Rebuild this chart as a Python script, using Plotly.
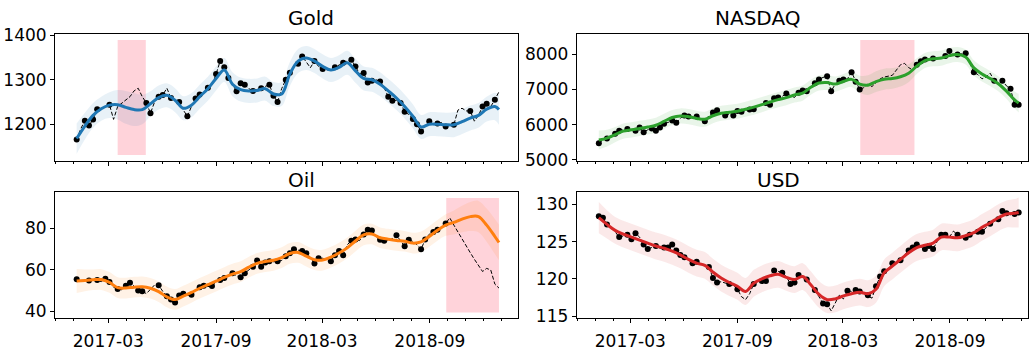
import pandas as pd
import plotly.graph_objects as go

# Weekly closing dates (Fridays) covering 2017-2018
week_dates = pd.date_range("2017-01-06", periods=104, freq="7D")
# The smoothed fit is sampled every other week plus the last week
fit_weeks = list(range(0, 104, 2)) + [103]
fit_dates = week_dates[fit_weeks]

# ---------------- Gold ----------------
gold_price = [1166, 1190, 1208, 1197, 1211, 1234, 1236, 1238, 1244, 1211,
              1240, 1248, 1254, 1262, 1275, 1281, 1262, 1248, 1225, 1250,
              1262, 1266, 1281, 1259, 1255, 1250, 1232, 1218, 1240, 1258,
              1267, 1272, 1282, 1287, 1313, 1342, 1328, 1304, 1290, 1274,
              1292, 1289, 1280, 1275, 1278, 1281, 1285, 1289, 1264, 1250,
              1280, 1300, 1316, 1330, 1336, 1352, 1340, 1327, 1342, 1330,
              1324, 1322, 1323, 1328, 1334, 1338, 1342, 1345, 1330, 1313,
              1315, 1294, 1298, 1300, 1296, 1282, 1262, 1253, 1254, 1248,
              1228, 1222, 1212, 1200, 1184, 1194, 1207, 1200, 1202, 1204,
              1195, 1198, 1199, 1232, 1236, 1230, 1230, 1207, 1220, 1240,
              1246, 1240, 1255, 1273]
gold_unobserved = [1, 6, 7, 9, 10, 11, 12, 13, 14, 15, 16, 19, 22, 24, 26,
                   28, 31, 33, 38, 42, 44, 46, 50, 53, 56, 57, 59, 61, 62,
                   64, 66, 69, 73, 75, 78, 81, 85, 87, 89, 91, 93, 94, 95,
                   97, 98, 101, 103]
gold_fit = [1168, 1196, 1220, 1235, 1243, 1244, 1238, 1233, 1233, 1246,
            1260, 1265, 1254, 1236, 1243, 1262, 1280, 1303, 1322, 1290,
            1278, 1275, 1276, 1280, 1268, 1268, 1313, 1342, 1349, 1342,
            1330, 1322, 1328, 1338, 1320, 1303, 1300, 1290, 1275, 1259,
            1240, 1218, 1194, 1200, 1200, 1199, 1199, 1206, 1214, 1220,
            1234, 1240, 1233]
gold_band = [34, 30, 28, 27, 29, 33, 37, 37, 33, 28,
             27, 27, 27, 27, 27, 27, 27, 27, 27, 27,
             27, 27, 27, 27, 27, 27, 27, 27, 27, 27,
             27, 27, 27, 27, 27, 27, 27, 27, 27, 27,
             27, 27, 27, 27, 27, 27, 28, 28, 28, 28,
             28, 31, 34]
gold_gap = ["2017-03-17", "2017-05-04"]

# ---------------- NASDAQ ----------------
nasdaq_price = [5466, 5560, 5601, 5640, 5736, 5826, 5850, 5871, 5840, 5826,
                5916, 5781, 5850, 5889, 5826, 5916, 6023, 6060, 6113, 6050,
                6180, 6257, 6230, 6185, 6230, 6150, 6095, 6250, 6340, 6410,
                6330, 6257, 6300, 6257, 6383, 6365, 6400, 6428, 6437, 6500,
                6580, 6616, 6563, 6751, 6770, 6800, 6886, 6830, 6770, 6904,
                6967, 6950, 7080, 7173, 7281, 7340, 7371, 6949, 7150, 7245,
                7281, 7300, 7488, 7218, 6994, 7050, 7150, 7080, 7200, 7300,
                7350, 7380, 7400, 7550, 7700, 7740, 7620, 7551, 7700, 7802,
                7848, 7860, 7875, 7880, 7875, 7950, 8090, 8000, 7990, 8000,
                8027, 7750, 7488, 7420, 7300, 7350, 7461, 7245, 7150, 7245,
                7100, 7020, 6562, 6562]
nasdaq_unobserved = [1, 3, 6, 8, 12, 17, 20, 23, 25, 27, 30, 32, 36, 39, 40,
                     45, 47, 48, 52, 55, 58, 61, 65, 66, 67, 68, 69, 70, 71,
                     72, 73, 74, 75, 76, 77, 81, 83, 84, 87, 89, 91, 93, 94,
                     95, 96, 98, 100]
nasdaq_fit = [5560, 5615, 5715, 5815, 5850, 5890, 5930, 5980, 6090, 6200,
              6245, 6225, 6175, 6150, 6250, 6320, 6350, 6380, 6435, 6495,
              6565, 6640, 6710, 6765, 6840, 6895, 7060, 7180, 7195, 7150,
              7225, 7285, 7150, 7120, 7220, 7290, 7310, 7360, 7460, 7660,
              7820, 7870, 7890, 7960, 7990, 7920, 7610, 7440, 7310, 7160,
              6950, 6700, 6610]
nasdaq_band = [270, 240, 215, 215, 215, 215, 215, 215, 215, 215,
               215, 215, 215, 215, 215, 215, 215, 215, 215, 215,
               215, 215, 215, 215, 215, 215, 215, 215, 215, 215,
               215, 215, 240, 280, 295, 300, 295, 280, 255, 225,
               215, 215, 215, 215, 215, 215, 215, 215, 215, 215,
               215, 240, 265]
nasdaq_gap = ["2018-03-31", "2018-07-02"]

# ---------------- Oil ----------------
oil_price = [55.3, 54.5, 54.8, 54.8, 55.5, 55.0, 54.2, 55.6, 54.0, 51.5,
             50.7, 50.3, 52.2, 53.7, 52.0, 49.9, 49.6, 48.4, 50.5, 52.6,
             52.5, 49.5, 47.2, 45.6, 44.1, 47.5, 48.4, 47.5, 47.9, 50.0,
             51.5, 52.2, 51.8, 52.1, 54.2, 55.0, 56.0, 57.0, 58.3, 57.0,
             56.3, 58.3, 60.0, 61.4, 64.4, 61.4, 63.4, 64.1, 63.8, 64.0,
             64.4, 66.5, 67.9, 69.8, 69.5, 69.0, 67.9, 66.0, 62.9, 65.5,
             65.5, 65.0, 64.1, 67.0, 69.0, 67.0, 72.0, 74.0, 74.5, 74.0,
             77.0, 79.2, 78.9, 76.0, 74.4, 74.0, 74.0, 75.0, 76.6, 74.0,
             71.3, 74.4, 73.6, 72.0, 69.8, 74.5, 77.1, 78.2, 79.2, 80.5,
             82.3, 85.0, 81.5, 78.0, 74.5, 71.0, 68.2, 65.0, 62.1, 59.1,
             60.6, 59.8, 53.0, 51.1]
oil_unobserved = [1, 2, 4, 6, 9, 11, 14, 17, 18, 19, 21, 27, 29, 32, 34,
                  37, 39, 42, 48, 50, 54, 57, 60, 61, 66, 69, 73, 76, 77,
                  79, 82, 83, 86, 89, 91, 92, 93, 94, 95, 96, 97, 98, 99,
                  100, 101, 102, 103]
oil_fit = [54.5, 54.8, 55.1, 55.2, 53.8, 51.3, 51.1, 51.5, 51.7, 51.0,
           49.4, 46.8, 45.6, 47.2, 49.0, 51.0, 52.7, 54.4, 56.2, 57.8,
           59.0, 61.2, 63.0, 63.9, 64.5, 65.8, 67.8, 68.3, 66.5, 64.8,
           64.6, 66.0, 68.0, 70.5, 73.8, 76.8, 77.2, 75.4, 74.7, 74.1,
           73.7, 72.8, 73.4, 76.0, 79.0, 81.5, 82.8, 84.4, 85.6, 85.6,
           81.5, 76.0, 73.1]
oil_band = [5.8, 5.3, 5.0, 5.0, 5.0, 5.0, 5.0, 5.0, 5.0, 5.0,
            5.0, 5.0, 5.0, 5.0, 5.0, 5.0, 5.0, 5.0, 5.0, 5.0,
            5.0, 5.0, 5.0, 5.0, 5.0, 5.0, 5.0, 5.0, 5.0, 5.0,
            5.0, 5.0, 5.0, 5.0, 5.0, 5.0, 5.0, 5.0, 5.0, 5.0,
            5.0, 5.0, 5.0, 5.0, 5.0, 5.2, 5.8, 6.4, 7.0, 7.6,
            8.0, 8.4, 8.6]
oil_gap = ["2018-09-29", "2018-12-28"]

# ---------------- USD ----------------
usd_price = [128.4, 128.2, 127.3, 126.8, 126.3, 125.6, 125.8, 125.9, 125.3, 126.1,
             125.6, 124.6, 124.0, 124.2, 124.4, 124.1, 124.2, 124.2, 124.6, 123.8,
             123.2, 122.9, 122.5, 122.1, 122.3, 122.0, 121.8, 121.6, 120.1, 119.5,
             119.6, 119.4, 119.3, 119.1, 118.6, 117.6, 117.2, 118.0, 119.3, 119.7,
             119.7, 119.7, 120.4, 121.1, 121.0, 120.8, 120.3, 119.3, 119.5, 120.5,
             120.2, 119.9, 119.3, 118.5, 117.6, 116.7, 116.6, 115.7, 116.8, 117.8,
             117.3, 118.4, 118.3, 118.5, 118.3, 118.0, 117.8, 117.4, 119.0, 120.3,
             121.0, 121.3, 122.1, 122.3, 122.5, 123.2, 123.8, 124.2, 124.6, 124.3,
             124.0, 124.4, 124.0, 125.0, 125.9, 125.9, 125.6, 126.4, 125.9, 125.6,
             125.5, 125.9, 126.1, 126.3, 126.3, 126.8, 127.4, 127.7, 128.0, 129.1,
             128.8, 128.6, 128.7, 128.9]
usd_unobserved = [3, 4, 6, 10, 13, 15, 22, 25, 26, 30, 31, 33, 35, 36, 37,
                  39, 42, 44, 46, 50, 52, 54, 57, 58, 59, 60, 62, 65, 67,
                  71, 73, 75, 79, 83, 86, 87, 89, 92, 95, 97, 101]
usd_fit = [128.2, 127.3, 126.5, 126.0, 125.6, 125.2, 124.8, 124.4, 124.1, 123.7,
           123.2, 122.6, 122.1, 121.8, 120.9, 120.1, 119.5, 119.0, 118.3, 119.4,
           120.0, 120.4, 120.6, 120.2, 119.9, 120.3, 119.2, 117.9, 117.2, 117.3,
           117.7, 118.0, 118.2, 118.0, 118.6, 120.8, 121.7, 122.6, 123.5, 124.2,
           124.5, 124.8, 125.6, 125.6, 125.5, 125.8, 126.2, 126.9, 127.5, 128.2,
           128.7, 128.8, 128.9]
usd_band = [2.1, 1.9, 1.8, 1.8, 1.8, 1.8, 1.8, 1.8, 1.8, 1.8,
            1.8, 1.8, 1.8, 1.8, 1.8, 1.8, 1.8, 1.8, 1.8, 1.8,
            1.8, 1.8, 1.8, 1.8, 1.8, 1.8, 1.8, 1.8, 1.8, 1.8,
            1.8, 1.8, 1.8, 1.8, 1.8, 1.8, 1.8, 1.8, 1.8, 1.8,
            1.8, 1.8, 1.8, 1.8, 1.8, 1.8, 1.8, 1.8, 1.8, 1.8,
            1.8, 1.9, 2.0]
usd_gap = None

# Axis settings
month_ticks = ["2017-03-01", "2017-09-01", "2018-03-01", "2018-09-01"]
month_labels = ["2017-03", "2017-09", "2018-03", "2018-09"]
gold_ticks = [1200, 1300, 1400]
nasdaq_ticks = [5000, 6000, 7000, 8000]
oil_ticks = [40, 60, 80]
usd_ticks = [115, 120, 125, 130]

W, H = 1033, 351
FONT = "DejaVu Sans"

left_dom = [55 / W, 517.7 / W]
right_dom = [576.7 / W, 1028 / W]
top_dom = [1 - 160 / H, 1 - 26.7 / H]
bot_dom = [1 - 326 / H, 1 - 193.3 / H]

panels = [
    dict(name="Gold", price=gold_price, miss=gold_unobserved, fit=gold_fit,
         band=gold_band, gap=gold_gap, color="#1f77b4", fill="rgba(31,119,180,0.1)",
         ax="", xdom=left_dom, ydom=top_dom, yr=[1118, 1402], yt=gold_ticks,
         xr=["2016-11-30", "2019-01-29"], labels=False, title_y=1 - 9 / H),
    dict(name="NASDAQ", price=nasdaq_price, miss=nasdaq_unobserved, fit=nasdaq_fit,
         band=nasdaq_band, gap=nasdaq_gap, color="#2ca02c", fill="rgba(44,160,44,0.1)",
         ax="2", xdom=right_dom, ydom=top_dom, yr=[4970, 8565], yt=nasdaq_ticks,
         xr=["2016-11-29", "2019-01-13"], labels=False, title_y=1 - 9 / H),
    dict(name="Oil", price=oil_price, miss=oil_unobserved, fit=oil_fit,
         band=oil_band, gap=oil_gap, color="#ff7f0e", fill="rgba(255,127,14,0.1)",
         ax="3", xdom=left_dom, ydom=bot_dom, yr=[36.5, 97.3], yt=oil_ticks,
         xr=["2016-11-30", "2019-01-29"], labels=True, title_y=1 - 180 / H),
    dict(name="USD", price=usd_price, miss=usd_unobserved, fit=usd_fit,
         band=usd_band, gap=usd_gap, color="#d62728", fill="rgba(214,39,40,0.1)",
         ax="4", xdom=right_dom, ydom=bot_dom, yr=[114.7, 131.6], yt=usd_ticks,
         xr=["2016-11-29", "2019-01-13"], labels=True, title_y=1 - 180 / H),
]

fig = go.Figure()
shapes = []
annotations = []
layout_axes = {}

for p in panels:
    xa, ya = "x" + p["ax"], "y" + p["ax"]
    lower = [m - b for m, b in zip(p["fit"], p["band"])]
    upper = [m + b for m, b in zip(p["fit"], p["band"])]

    # uncertainty band
    fig.add_trace(go.Scatter(x=fit_dates, y=lower, mode="lines",
                             line=dict(width=0, shape="spline"),
                             hoverinfo="skip", showlegend=False,
                             xaxis=xa, yaxis=ya))
    fig.add_trace(go.Scatter(x=fit_dates, y=upper, mode="lines", fill="tonexty",
                             fillcolor=p["fill"], line=dict(width=0, shape="spline"),
                             hoverinfo="skip", showlegend=False,
                             xaxis=xa, yaxis=ya))
    # full weekly series
    fig.add_trace(go.Scatter(x=week_dates, y=p["price"], mode="lines",
                             line=dict(color="black", width=1, dash="4px,2px"),
                             showlegend=False, xaxis=xa, yaxis=ya))
    # observed points
    obs = [i for i in range(len(p["price"])) if i not in p["miss"]]
    fig.add_trace(go.Scatter(x=week_dates[obs], y=[p["price"][i] for i in obs],
                             mode="markers", marker=dict(color="black", size=6),
                             showlegend=False, xaxis=xa, yaxis=ya))
    # smoothed fit
    fig.add_trace(go.Scatter(x=fit_dates, y=p["fit"], mode="lines",
                             line=dict(color=p["color"], width=3, shape="spline"),
                             showlegend=False, xaxis=xa, yaxis=ya))

    if p["gap"] is not None:
        shapes.append(dict(type="rect", xref=xa, yref=ya + " domain",
                           x0=p["gap"][0], x1=p["gap"][1], y0=0.045, y1=0.955,
                           fillcolor="pink", opacity=0.7, line=dict(width=0),
                           layer="below"))

    annotations.append(dict(text=p["name"], xref="paper", yref="paper",
                            x=(p["xdom"][0] + p["xdom"][1]) / 2,
                            y=p["title_y"], yanchor="middle",
                            showarrow=False,
                            font=dict(family=FONT, size=20, color="black")))

    xkey = "xaxis" + p["ax"]
    ykey = "yaxis" + p["ax"]
    layout_axes[xkey] = dict(
        domain=p["xdom"], anchor=ya, type="date", range=p["xr"],
        tickmode="array", tickvals=month_ticks, ticktext=month_labels,
        showticklabels=p["labels"], ticks="outside", ticklen=4, tickwidth=1,
        tickcolor="black", showgrid=False, zeroline=False,
        showline=True, linecolor="black", linewidth=1, mirror=True,
        ticklabelstandoff=3,
        minor=dict(ticks="outside", ticklen=2, tickcolor="black",
                   dtick="M1", tick0="2016-12-01", showgrid=False),
        tickfont=dict(family=FONT, size=17, color="black"),
    )
    layout_axes[ykey] = dict(
        domain=p["ydom"], anchor=xa, range=p["yr"],
        tickmode="array", tickvals=p["yt"],
        ticks="outside", ticklen=4, tickwidth=1, tickcolor="black",
        showgrid=False, zeroline=False,
        showline=True, linecolor="black", linewidth=1, mirror=True,
        tickfont=dict(family=FONT, size=17, color="black"),
    )

fig.update_layout(
    width=W, height=H, margin=dict(l=0, r=0, t=0, b=0),
    plot_bgcolor="white", paper_bgcolor="white",
    showlegend=False, shapes=shapes, annotations=annotations,
    **layout_axes,
)

fig.write_html("out.html")
